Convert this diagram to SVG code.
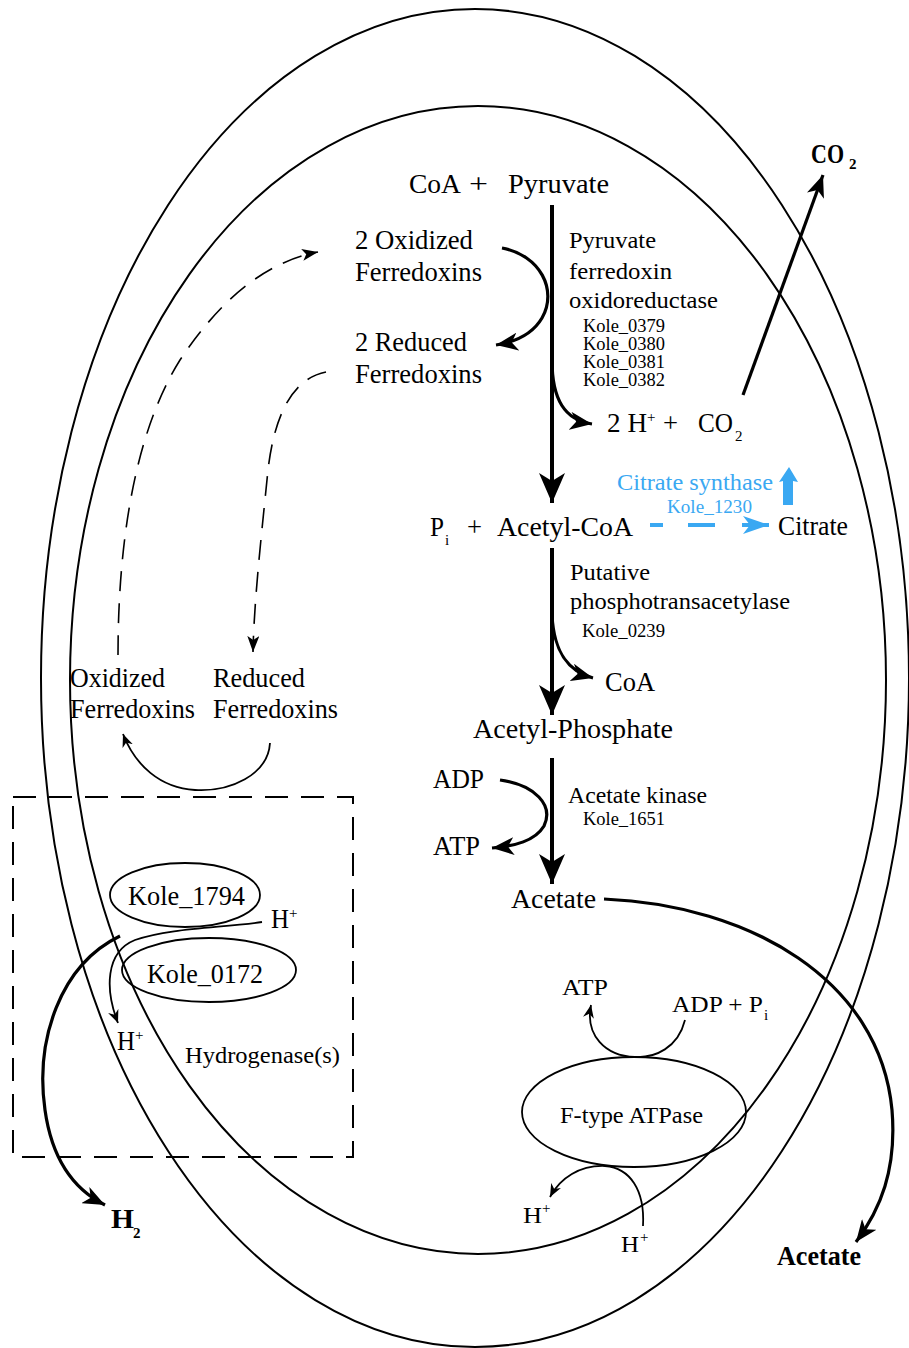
<svg xmlns="http://www.w3.org/2000/svg" width="909" height="1348" viewBox="0 0 909 1348">
<style>
text{font-family:"Liberation Serif","Times New Roman",serif;fill:#000}
.L{font-size:27px}
.M{font-size:23.5px}
.S{font-size:18px}
.sub{font-size:15px}
.B{font-weight:bold}
.blue{fill:#3aa8f2}
.cell{fill:none;stroke:#000;stroke-width:2}
.thick{fill:none;stroke:#000;stroke-width:4}
.med{fill:none;stroke:#000;stroke-width:3.2}
.thin{fill:none;stroke:#000;stroke-width:1.8}
.dash{fill:none;stroke:#000;stroke-width:1.6;stroke-dasharray:20 12}
.box{fill:none;stroke:#000;stroke-width:2;stroke-dasharray:23 13}
.enz{fill:none;stroke:#000;stroke-width:1.8}
</style>
<defs>
<marker id="ahBig" viewBox="0 0 30 26" refX="30" refY="13" markerWidth="30" markerHeight="26" markerUnits="userSpaceOnUse" orient="auto"><path d="M0,0 L30,13 L0,26 L8,13 z" fill="#000"/></marker>
<marker id="ahMed" viewBox="0 0 22 18" refX="22" refY="9" markerWidth="22" markerHeight="18" markerUnits="userSpaceOnUse" orient="auto"><path d="M0,0 L22,9 L0,18 L6,9 z" fill="#000"/></marker>
<marker id="ahDash" viewBox="0 0 16 12" refX="16" refY="6" markerWidth="16" markerHeight="12" markerUnits="userSpaceOnUse" orient="auto"><path d="M0,0 L16,6 L0,12 L4,6 z" fill="#000"/></marker>
<marker id="ahSmall" viewBox="0 0 13 11" refX="13" refY="5.5" markerWidth="13" markerHeight="11" markerUnits="userSpaceOnUse" orient="auto"><path d="M0,0 L13,5.5 L0,11 L4,5.5 z" fill="#000"/></marker>
<marker id="ahBlue" viewBox="0 0 26 18" refX="26" refY="9" markerWidth="26" markerHeight="18" markerUnits="userSpaceOnUse" orient="auto"><path d="M0,0 L26,9 L0,18 L7,9 z" fill="#3aa8f2"/></marker>
</defs>

<g id="cell">
<ellipse class="cell" cx="475" cy="678" rx="434" ry="669"/>
<ellipse class="cell" cx="478" cy="680" rx="408" ry="574"/>
</g>

<g id="hydrogenase-box">
<rect class="box" x="13" y="797" width="340" height="360"/>
</g>

<g id="connectors">
<line class="thick" x1="552" y1="205" x2="552" y2="503" marker-end="url(#ahBig)"/>
<path class="med" d="M552,360 C552,400 565,420 592,424" marker-end="url(#ahMed)"/>
<path class="med" d="M502,248 C540,255 558,290 542,318 C532,335 515,342 496,345" marker-end="url(#ahMed)"/>
<line class="med" x1="743" y1="395" x2="823" y2="175" marker-end="url(#ahMed)"/>
<line class="thick" x1="552" y1="548" x2="552" y2="715" marker-end="url(#ahBig)"/>
<path class="med" d="M552,615 C554,655 570,672 593,678" marker-end="url(#ahMed)"/>
<line class="thick" x1="552" y1="758" x2="552" y2="884" marker-end="url(#ahBig)"/>
<path class="med" d="M500,780 C535,785 554,805 544,826 C535,841 515,846 492,848" marker-end="url(#ahMed)"/>
<path class="med" d="M604,899 C750,905 880,980 892,1110 C897,1170 880,1210 856,1242" marker-end="url(#ahMed)"/>
<path class="med" d="M120,936 C60,965 35,1040 45,1110 C52,1160 75,1190 105,1205" marker-end="url(#ahMed)"/>
<path class="dash" d="M118,655 C118,560 130,440 180,360 C220,300 265,262 318,252" marker-end="url(#ahDash)"/>
<path class="dash" d="M326,372 C295,378 275,410 268,470 C262,530 254,600 253,652" marker-end="url(#ahDash)"/>
<path class="thin" d="M270,743 C268,775 230,792 195,790 C160,788 135,765 123,734" marker-end="url(#ahSmall)"/>
<path class="thin" d="M262,922 C220,928 170,928 135,940 C105,952 105,990 118,1023" marker-end="url(#ahSmall)"/>
<path class="thin" d="M685,1020 C678,1048 655,1058 635,1057 C605,1056 585,1035 591,1005" marker-end="url(#ahSmall)"/>
<path class="thin" d="M643,1226 C645,1190 630,1168 605,1166 C580,1165 560,1178 550,1197" marker-end="url(#ahSmall)"/>
<path fill="none" stroke="#3aa8f2" stroke-width="4" d="M650,525 L663,525 M688,525 L715,525"/>
<line stroke="#3aa8f2" stroke-width="4" x1="742" y1="525" x2="769" y2="525" marker-end="url(#ahBlue)"/>
<path fill="#3aa8f2" d="M783,505 L783,481 L779,482 L789,467 L798,482 L793,481 L793,505 z"/>
</g>

<g id="coa-pyruvate">
<text class="L" x="409" y="193" textLength="52" lengthAdjust="spacingAndGlyphs">CoA</text>
<text class="L" x="469" y="193" textLength="19" lengthAdjust="spacingAndGlyphs">+</text>
<text class="L" x="508" y="193" textLength="101" lengthAdjust="spacingAndGlyphs">Pyruvate</text>
</g>
<g id="co2-out">
<text class="L B" x="811" y="163" textLength="33" lengthAdjust="spacingAndGlyphs">CO</text>
<text class="sub B" x="849" y="169">2</text>
</g>
<g id="oxidized-ferredoxins-2">
<text class="L" x="355" y="249" textLength="118" lengthAdjust="spacingAndGlyphs">2 Oxidized</text>
<text class="L" x="355" y="281" textLength="127" lengthAdjust="spacingAndGlyphs">Ferredoxins</text>
</g>
<g id="reduced-ferredoxins-2">
<text class="L" x="355" y="351" textLength="112" lengthAdjust="spacingAndGlyphs">2 Reduced</text>
<text class="L" x="355" y="383" textLength="127" lengthAdjust="spacingAndGlyphs">Ferredoxins</text>
</g>
<g id="pfor">
<text class="M" x="569" y="248" textLength="87" lengthAdjust="spacingAndGlyphs">Pyruvate</text>
<text class="M" x="569" y="279" textLength="103" lengthAdjust="spacingAndGlyphs">ferredoxin</text>
<text class="M" x="569" y="308" textLength="149" lengthAdjust="spacingAndGlyphs">oxidoreductase</text>
<text class="S" x="583" y="332" textLength="82" lengthAdjust="spacingAndGlyphs">Kole_0379</text>
<text class="S" x="583" y="350" textLength="82" lengthAdjust="spacingAndGlyphs">Kole_0380</text>
<text class="S" x="583" y="368" textLength="82" lengthAdjust="spacingAndGlyphs">Kole_0381</text>
<text class="S" x="583" y="386" textLength="82" lengthAdjust="spacingAndGlyphs">Kole_0382</text>
</g>
<g id="h-co2">
<text class="L" x="607" y="432" textLength="40" lengthAdjust="spacingAndGlyphs">2 H</text>
<text class="sub" x="647" y="422">+</text>
<text class="L" x="663" y="432" textLength="15" lengthAdjust="spacingAndGlyphs">+</text>
<text class="L" x="698" y="432" textLength="35" lengthAdjust="spacingAndGlyphs">CO</text>
<text class="sub" x="735" y="441">2</text>
</g>
<g id="citrate-synthase">
<text class="M blue" x="617" y="490" textLength="156" lengthAdjust="spacingAndGlyphs">Citrate synthase</text>
<text class="S blue" x="667" y="513" textLength="85" lengthAdjust="spacingAndGlyphs">Kole_1230</text>
</g>
<g id="pi-acetylcoa">
<text class="L" x="430" y="536" textLength="14" lengthAdjust="spacingAndGlyphs">P</text>
<text class="sub" x="445" y="545">i</text>
<text class="L" x="467" y="536" textLength="15" lengthAdjust="spacingAndGlyphs">+</text>
<text class="L" x="497" y="536" textLength="136" lengthAdjust="spacingAndGlyphs">Acetyl-CoA</text>
</g>
<g id="citrate">
<text class="L" x="778" y="535" textLength="70" lengthAdjust="spacingAndGlyphs">Citrate</text>
</g>
<g id="pta">
<text class="M" x="570" y="580" textLength="80" lengthAdjust="spacingAndGlyphs">Putative</text>
<text class="M" x="570" y="609" textLength="220" lengthAdjust="spacingAndGlyphs">phosphotransacetylase</text>
<text class="S" x="582" y="637" textLength="83" lengthAdjust="spacingAndGlyphs">Kole_0239</text>
</g>
<g id="coa">
<text class="L" x="605" y="691" textLength="50" lengthAdjust="spacingAndGlyphs">CoA</text>
</g>
<g id="acetyl-phosphate">
<text class="L" x="473" y="738" textLength="200" lengthAdjust="spacingAndGlyphs">Acetyl-Phosphate</text>
</g>
<g id="adp-atp">
<text class="L" x="433" y="788" textLength="51" lengthAdjust="spacingAndGlyphs">ADP</text>
<text class="L" x="433" y="855" textLength="47" lengthAdjust="spacingAndGlyphs">ATP</text>
</g>
<g id="acetate-kinase">
<text class="M" x="568" y="803" textLength="139" lengthAdjust="spacingAndGlyphs">Acetate kinase</text>
<text class="S" x="583" y="825" textLength="82" lengthAdjust="spacingAndGlyphs">Kole_1651</text>
</g>
<g id="acetate">
<text class="L" x="511" y="908" textLength="85" lengthAdjust="spacingAndGlyphs">Acetate</text>
</g>
<g id="oxidized-ferredoxins">
<text class="L" x="70" y="687" textLength="95" lengthAdjust="spacingAndGlyphs">Oxidized</text>
<text class="L" x="70" y="718" textLength="125" lengthAdjust="spacingAndGlyphs">Ferredoxins</text>
</g>
<g id="reduced-ferredoxins">
<text class="L" x="213" y="687" textLength="92" lengthAdjust="spacingAndGlyphs">Reduced</text>
<text class="L" x="213" y="718" textLength="125" lengthAdjust="spacingAndGlyphs">Ferredoxins</text>
</g>
<g id="kole-1794">
<ellipse class="enz" cx="185" cy="895" rx="75" ry="32"/>
<text class="L" x="128" y="905" textLength="117" lengthAdjust="spacingAndGlyphs">Kole_1794</text>
</g>
<g id="kole-0172">
<ellipse class="enz" cx="209" cy="970" rx="87" ry="32"/>
<text class="L" x="147" y="983" textLength="116" lengthAdjust="spacingAndGlyphs">Kole_0172</text>
</g>
<g id="h-plus-1">
<text class="L" x="271" y="928" textLength="18" lengthAdjust="spacingAndGlyphs">H</text><text class="sub" x="289" y="918">+</text>
</g>
<g id="h-plus-2">
<text class="L" x="117" y="1050" textLength="18" lengthAdjust="spacingAndGlyphs">H</text><text class="sub" x="135" y="1040">+</text>
</g>
<g id="hydrogenases">
<text class="M" x="185" y="1063" textLength="155" lengthAdjust="spacingAndGlyphs">Hydrogenase(s)</text>
</g>
<g id="atp-out">
<text class="M" x="562" y="995" textLength="46" lengthAdjust="spacingAndGlyphs">ATP</text>
</g>
<g id="adp-pi">
<text class="M" x="672" y="1012" textLength="91" lengthAdjust="spacingAndGlyphs">ADP + P</text>
<text class="sub" x="764" y="1020">i</text>
</g>
<g id="atpase">
<ellipse class="enz" cx="634" cy="1112" rx="112" ry="55"/>
<text class="M" x="560" y="1123" textLength="143" lengthAdjust="spacingAndGlyphs">F-type ATPase</text>
</g>
<g id="h-plus-3">
<text class="M" x="523" y="1223" textLength="19" lengthAdjust="spacingAndGlyphs">H</text><text class="sub" x="542" y="1213">+</text>
</g>
<g id="h-plus-4">
<text class="M" x="621" y="1252" textLength="18" lengthAdjust="spacingAndGlyphs">H</text><text class="sub" x="640" y="1242">+</text>
</g>
<g id="h2">
<text class="L B" x="111" y="1228" textLength="23" lengthAdjust="spacingAndGlyphs">H</text>
<text class="sub B" x="133" y="1238">2</text>
</g>
<g id="acetate-out">
<text class="L B" x="777" y="1265" textLength="84" lengthAdjust="spacingAndGlyphs">Acetate</text>
</g>
</svg>
